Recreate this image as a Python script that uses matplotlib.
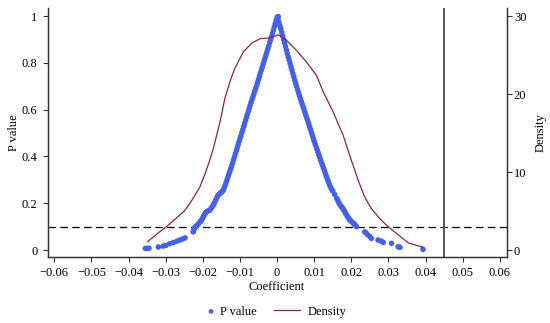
import matplotlib
matplotlib.use("Agg")
import matplotlib.pyplot as plt
from matplotlib.ticker import FuncFormatter

plt.rcParams['font.family'] = ['Liberation Serif', 'DejaVu Serif']

# P value scatter: coefficient, p value
coef = [
    -0.0355, -0.0350, -0.0345, -0.0320, -0.0307, -0.0300, -0.0290, -0.0280, -0.0270, -0.0262,
    -0.0255, -0.0248, -0.0226, -0.0225, -0.0222, -0.0220, -0.0216, -0.0212, -0.0208, -0.0205,
    -0.0203, -0.0200, -0.0198, -0.0195, -0.0192, -0.0188, -0.0185, -0.0181, -0.0178, -0.0175,
    -0.0172, -0.0170, -0.0168, -0.0165, -0.0162, -0.0159, -0.0155, -0.0153, -0.0150, -0.0148,
    -0.01450, -0.01425, -0.01400, -0.01375, -0.01350, -0.01325, -0.01300, -0.01275, -0.01250, -0.01225,
    -0.01200, -0.01175, -0.01150, -0.01125, -0.01100, -0.01075, -0.01050, -0.01025, -0.01000, -0.00975,
    -0.00950, -0.00925, -0.00900, -0.00875, -0.00850, -0.00825, -0.00800, -0.00775, -0.00750, -0.00725,
    -0.00700, -0.00675, -0.00650, -0.00625, -0.00600, -0.00575, -0.00550, -0.00525, -0.00500, -0.00475,
    -0.00450, -0.00425, -0.00400, -0.00375, -0.00350, -0.00325, -0.00300, -0.00275, -0.00250, -0.00225,
    -0.00200, -0.00175, -0.00150, -0.00125, -0.00100, -0.00075, -0.00050, -0.00025, 0.00000, 0.00030,
    0.00025, 0.00050, 0.00075, 0.00100, 0.00125, 0.00150, 0.00175, 0.00200, 0.00225, 0.00250,
    0.00275, 0.00300, 0.00325, 0.00350, 0.00375, 0.00400, 0.00425, 0.00450, 0.00475, 0.00500,
    0.00525, 0.00550, 0.00575, 0.00600, 0.00625, 0.00650, 0.00675, 0.00700, 0.00725, 0.00750,
    0.00775, 0.00800, 0.00825, 0.00850, 0.00875, 0.00900, 0.00925, 0.00950, 0.00975, 0.01000,
    0.01025, 0.01050, 0.01075, 0.01100, 0.01125, 0.01150, 0.01175, 0.01200, 0.01225, 0.01250,
    0.01275, 0.01300, 0.01325, 0.01350, 0.01375, 0.01400, 0.01425, 0.01450, 0.01475, 0.01500,
    0.0155, 0.0160, 0.0163, 0.0165, 0.0168, 0.0170, 0.0173, 0.0175, 0.0178, 0.0180,
    0.0183, 0.0185, 0.0188, 0.0190, 0.0193, 0.0195, 0.0198, 0.0200, 0.0205, 0.0208,
    0.0210, 0.0214, 0.0236, 0.0240, 0.0245, 0.0250, 0.0254, 0.0272, 0.0280, 0.0286,
    0.0308, 0.0326, 0.0331, 0.0393,
]
pval = [
    0.007, 0.007, 0.008, 0.013, 0.017, 0.020, 0.027, 0.032, 0.038, 0.043,
    0.047, 0.052, 0.078, 0.085, 0.094, 0.100, 0.105, 0.112, 0.120, 0.125,
    0.130, 0.138, 0.145, 0.155, 0.161, 0.165, 0.168, 0.171, 0.178, 0.185,
    0.192, 0.198, 0.205, 0.215, 0.225, 0.235, 0.240, 0.243, 0.247, 0.250,
    0.256, 0.266, 0.276, 0.288, 0.300, 0.312, 0.324, 0.336, 0.348, 0.360,
    0.372, 0.385, 0.398, 0.411, 0.424, 0.437, 0.450, 0.463, 0.476, 0.489,
    0.502, 0.515, 0.528, 0.541, 0.554, 0.567, 0.580, 0.593, 0.606, 0.619,
    0.632, 0.644, 0.656, 0.668, 0.680, 0.692, 0.704, 0.717, 0.730, 0.743,
    0.756, 0.769, 0.782, 0.795, 0.808, 0.821, 0.834, 0.847, 0.860, 0.873,
    0.886, 0.899, 0.912, 0.926, 0.940, 0.954, 0.968, 0.982, 0.995, 0.998,
    0.985, 0.972, 0.958, 0.945, 0.930, 0.915, 0.900, 0.885, 0.870, 0.855,
    0.840, 0.826, 0.812, 0.797, 0.782, 0.768, 0.754, 0.740, 0.726, 0.712,
    0.699, 0.686, 0.673, 0.660, 0.648, 0.636, 0.624, 0.612, 0.600, 0.588,
    0.576, 0.564, 0.552, 0.540, 0.527, 0.515, 0.502, 0.490, 0.477, 0.465,
    0.453, 0.442, 0.430, 0.418, 0.406, 0.395, 0.383, 0.372, 0.361, 0.350,
    0.339, 0.328, 0.316, 0.305, 0.294, 0.284, 0.274, 0.265, 0.258, 0.252,
    0.238, 0.222, 0.215, 0.205, 0.198, 0.192, 0.186, 0.182, 0.176, 0.170,
    0.162, 0.155, 0.148, 0.142, 0.136, 0.130, 0.126, 0.122, 0.115, 0.111,
    0.107, 0.100, 0.078, 0.072, 0.064, 0.058, 0.050, 0.043, 0.038, 0.033,
    0.029, 0.014, 0.012, 0.003,
]

# Kernel density of coefficients
dens_x = [-0.0349, -0.0320, -0.0298, -0.0273, -0.0248, -0.0228, -0.0208, -0.0194, -0.0183, -0.0172,
          -0.0154, -0.0141, -0.0127, -0.0114, -0.0091, -0.0069, -0.0046, -0.0019, 0.0003, 0.0025,
          0.0052, 0.0079, 0.0106, 0.0124, 0.0151, 0.0178, 0.0200, 0.0218, 0.0236, 0.0254,
          0.0281, 0.0299, 0.0325, 0.0353, 0.0393]
dens_y = [1.06, 2.2, 3.0, 4.05, 5.1, 6.5, 8.1, 9.8, 11.3, 13.0,
          16.4, 19.4, 21.6, 23.3, 25.4, 26.5, 27.1, 27.2, 27.6, 26.9,
          25.6, 24.1, 22.4, 20.3, 17.7, 14.7, 11.5, 9.0, 6.8, 5.3,
          3.8, 3.0, 2.0, 0.93, 0.35]

x_ticks = [-0.06, -0.05, -0.04, -0.03, -0.02, -0.01, 0, 0.01, 0.02, 0.03, 0.04, 0.05, 0.06]
p_ticks = [0, 0.2, 0.4, 0.6, 0.8, 1]
d_ticks = [0, 10, 20, 30]
p_threshold = 0.1
vline_x = 0.045

fig = plt.figure(figsize=(5.5, 3.23), dpi=100)
ax = fig.add_axes([0.0867, 0.204, 0.8343, 0.771])
ax2 = ax.twinx()

fs = 9
sc = ax.scatter(coef, pval, s=16, color='#4461E8', edgecolors='none', zorder=3, label='P value')
ln, = ax2.plot(dens_x, dens_y, color='#8B2252', lw=0.9, label='Density')

ax.axhline(p_threshold, color='black', lw=0.9, ls=(0, (6, 3.5)), zorder=2)
ax.axvline(vline_x, color='#555555', lw=1.4, zorder=2)

ax.set_xlim(-0.0618, 0.0618)
ax.set_ylim(-0.03, 1.034)
ax2.set_ylim(-0.9, 31.02)

ax.set_xticks(x_ticks)
ax.xaxis.set_major_formatter(FuncFormatter(lambda v, p: '0' if abs(v) < 1e-9 else ('%g' % v).replace('-', '\u2212')))
ax.set_yticks(p_ticks)
ax.set_yticklabels(['%g' % v for v in p_ticks])
ax2.set_yticks(d_ticks)

for a in (ax, ax2):
    a.tick_params(labelsize=fs, length=3.3, width=0.8, color='#333333')
    a.spines['top'].set_visible(False)
    for s in ('left', 'right', 'bottom'):
        a.spines[s].set_color('#333333')
        a.spines[s].set_linewidth(0.9)
ax.tick_params(axis='y', pad=4)
ax.tick_params(axis='x', pad=3.5)
ax2.tick_params(axis='y', pad=2)

ax.set_xlabel('Coefficient', fontsize=fs, labelpad=1.5)
ax.set_ylabel('P value', fontsize=fs, labelpad=1)
ax2.set_ylabel('Density', fontsize=fs, labelpad=6)

leg1 = fig.legend([sc], ['P value'], loc='center left', bbox_to_anchor=(0.3757, 0.035),
                  frameon=False, fontsize=fs, handlelength=0.7, handletextpad=0.37,
                  borderpad=0, borderaxespad=0, markerscale=0.85, scatterpoints=1)
leg2 = fig.legend([ln], ['Density'], loc='center left', bbox_to_anchor=(0.498, 0.035),
                  frameon=False, fontsize=fs, handlelength=2.08, handletextpad=0.64,
                  borderpad=0, borderaxespad=0)

fig.savefig('out.png', dpi=100)
